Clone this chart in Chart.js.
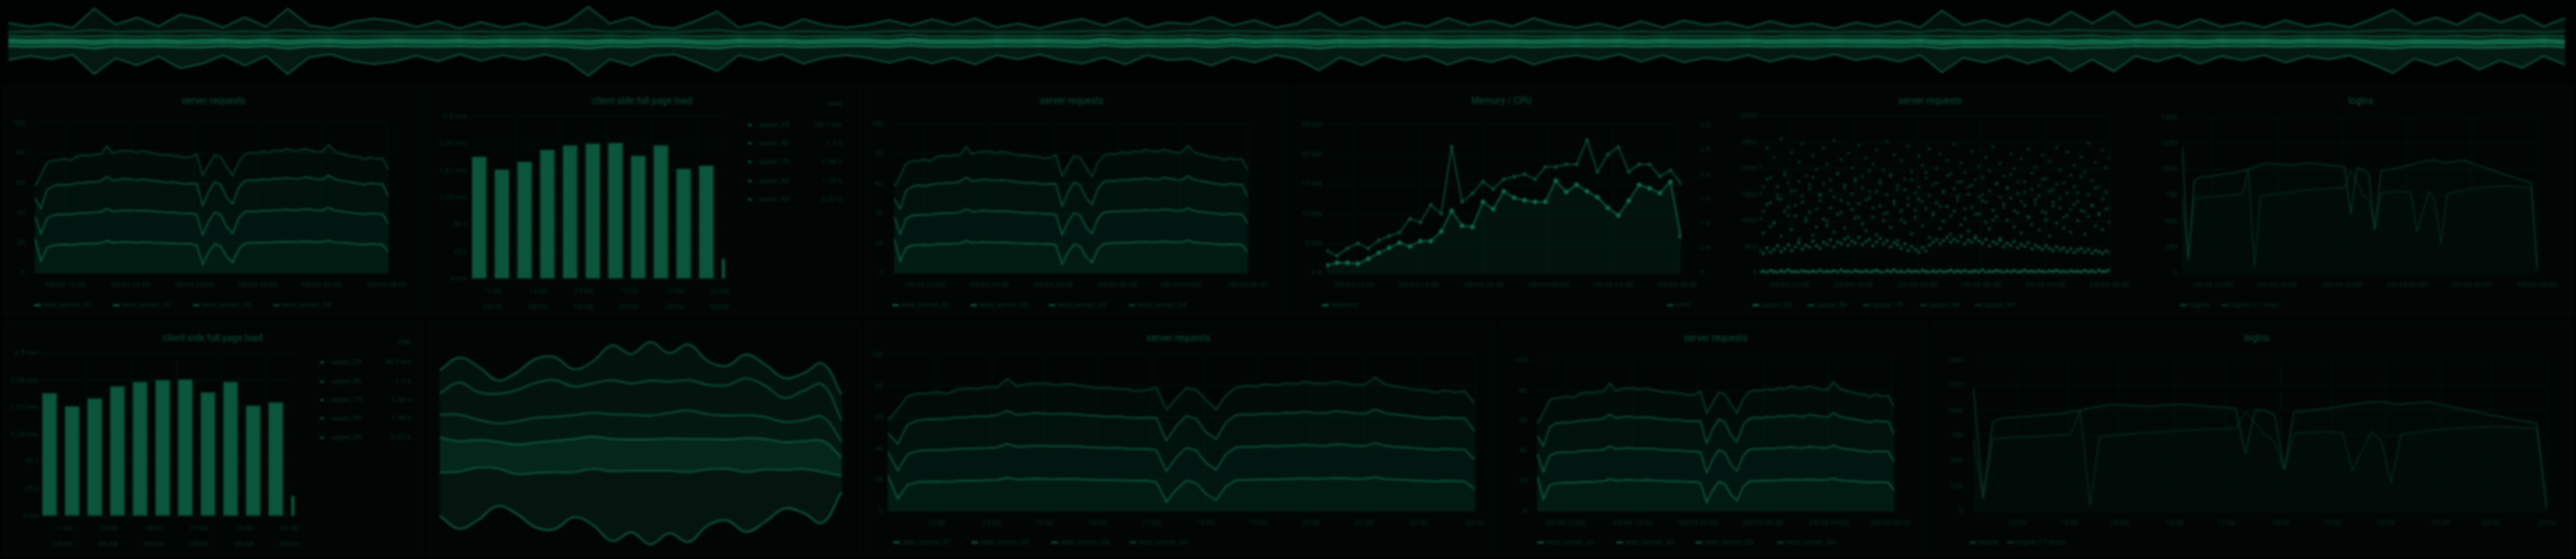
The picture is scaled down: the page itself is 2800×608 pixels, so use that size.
<!DOCTYPE html>
<html>
<head>
<meta charset="utf-8">
<script src="https://cdn.jsdelivr.net/npm/chart.js@4.4.1/dist/chart.umd.min.js"></script>
<style>
html, body { margin: 0; padding: 0; background: #000302; width: 2800px; height: 608px; overflow: hidden; font-family: Roboto, sans-serif; }
body { filter: blur(1.1px); }
.panel { position: absolute; background: #010604; border: 1px solid #030b08; box-sizing: border-box; border-radius: 2px; }
.t { position: absolute; white-space: nowrap; color: #082c20; font-size: 8px; line-height: 10px; }
.title { font-size: 10px; color: #0a3b2a; font-weight: 500; }
.mk { position: absolute; width: 7px; height: 2px; }
canvas { position: absolute; }
</style>
</head>
<body>
<script>
// ---- top stream (layer thickness, bottom to top) ----
const topL1 = [15,10,14,9,28,13,20,11,23,18, 10,20,11,28,12,9,15,19,17,10, 16,9,15,10,14,9,15,30,14,20, 11,9,16,25,10,15,9,18,12,10,
  13,17,13,18,12,19,10,14,9,15, 18,13,19,10,15,14,20,13,17,10, 14,24,12,20,10,15,11,19,12,17, 11,19,13,10,14,9,16,10,17,12,
  15,10,16,11,14,9,15,11,16,10, 26,12,17,11,18,12,25,13,26,11, 16,10,18,11,15,10,17,11,14,10, 18,27,13,20,12,24,14,23,11,19];
const topL2 = [4,4,4,4,4.5,4,4,4,4,4.5, 4,4,4,4.5,4,4,4,4,4,4, 4,4,4,4,4,4,4,4.5,4,4, 4,4,4,4.5,4,4,4,4,4,4,
  4,4,4,4,4,4,4,4,4,4, 4,4,4,4,4,4,4,4,4,4, 4,4.5,4,4,4,4,4,4,4,4, 4,4,4,4,4,4,4,4,4,4,
  4,4,4,4,4,4,4,4,4,4, 4.5,4,4,4,4,4,4.5,4.5,4,4, 4,4,4,4,4,4,4,4,4,4, 4,4.5,4,4,4,4,4.5,4,4,4];
const topL3 = [3,3,3,3,3.5,3,3,3,3,3.5, 3,3,3,3.5,3,3,3,3,3,3, 3,3,3,3,3,3,3,3.5,3,3, 3,3,3,3.5,3,3,3,3,3,3,
  3,3,3,3,3,3,3,3,3,3, 3,3,3,3,3,3,3,3,3,3, 3,3.5,3,3,3,3,3,3,3,3, 3,3,3,3,3,3,3,3,3,3,
  3,3,3,3,3,3,3,3,3,3, 3.5,3,3,3,3,3,3.5,3.5,3,3, 3,3,3,3,3,3,3,3,3,3, 3,3.5,3,3,3,3,3.5,3,3,3];
const topL4 = [4,4,4.5,4,5,4.5,4,4.5,4.5,5, 4,4.5,4,5,4,4,4.5,4.5,4,4, 4.5,4,4,4,4,4,4.5,5,4.5,4.5, 4,4,4.5,5,4,4,4,4.5,4,4,
  4,4.5,4.5,4,4.5,4,4,4,4,4, 4.5,4.5,4,4,4,4.5,4.5,4.5,4,4, 4,5,4.5,4,4,4,4,4.5,4.5,4, 4.5,4.5,4,4,4,4,4,4,4.5,4.5,
  4,4,4,4.5,4,4,4,4.5,4,4, 5,4.5,4,4.5,4,4,5,5,4,4, 4.5,4,4.5,4,4,4,4,4,4,4.5, 4.5,5,4.5,4,5,4.5,5,4,4,4.5];
const topL5 = [4,6,4,5,7,4,6,4,6,5, 4,6,4,7,5,4,6,5,4,5, 5,4,6,4,5,4,5,7,4,6, 4,4,6,7,4,5,4,6,5,4,
  4,6,4,6,5,6,4,5,4,5, 6,4,6,4,5,5,6,4,6,4, 5,7,4,6,4,5,4,6,5,5, 4,6,5,4,5,4,6,4,5,5,
  5,4,6,4,5,4,5,4,6,4, 7,5,6,4,6,5,7,5,7,4, 5,4,6,4,5,4,6,4,5,4, 6,7,5,6,5,7,5,6,4,6];
const topL6 = [10,5,9,4,23,8,15,6,18,13, 5,15,6,23,7,4,10,14,12,5, 11,4,10,5,9,4,10,25,9,15, 6,4,11,20,5,10,4,13,7,5,
  8,12,6,13,7,14,5,9,4,10, 13,6,14,5,10,7,15,6,12,5, 9,19,7,15,5,10,6,14,7,12, 6,14,8,5,9,4,11,5,12,7,
  10,5,11,6,9,4,10,6,11,5, 21,7,12,6,13,7,20,8,21,6, 11,5,13,6,10,5,12,6,9,5, 13,22,8,15,7,19,9,18,6,14];

// ---- lower stream panel ----
const waveL1 = [47,62,57,41,43,59,62,49,61,76,67,80,68,76,61,56,65,57,42,48,55,17];
const waveL2 = [38,33,30,29,32,33,34,36,35,35,34,34,35,36,33,32,37,33,30,30,34,20];
const waveL3 = [25,29,22,20,25,27,26,26,26,27,27,26,28,31,27,26,25,24,22,23,26,17];
const waveL4 = [23,35,30,32,34,38,40,31,32,37,34,38,34,33,32,33,40,34,26,32,35,23];
const waveL5 = [25,27,28,15,19,26,25,19,24,38,32,42,31,39,26,21,26,23,22,19,23,28];

// ---- server requests (stacked) ----
const srvNames = ['web_server_01', 'web_server_02', 'web_server_03', 'web_server_04'];
const srvS1 = [23,8,17,18.5,18.8,19,18.7,19.2,19.5,19.4, 19.8,20,21.5,20.3,20.5,20.8,20.6,20.4,20.7,20.5,
  20.2,20,19.8,19.9,19.6,19.4,19.5,18.5,6,14, 19.5,18,11,7,16,19.8,20,20.2,20.4,20.3,
  20.6,20.8,21,20.7,20.9,21.2,21,20.6,20.8,21.8, 20.6,20.2,20,19.6,19.3,19,19.4,19.2,19,14];
const srvS2 = [15,18,19.5,20,20.2,20,20.4,20.6,20.5,20.8, 20.6,20.9,21.5,20.8,21,21.2,21,21.1,20.9,21,
  20.8,20.7,20.5,20.6,20.4,20.2,20.3,20.5,19.5,20.5, 21,20.8,19.8,19.5,20.6,21,21.2,21,21.3,21.1,
  21.4,21.2,21.5,21.3,21,21.6,21.4,21.2,21,21.8, 21.2,21,20.8,20.6,20.4,20.2,20.5,20.3,20.4,19];
const srvS3 = [12,17,19,19.5,19.8,19.6,20,20.2,20.1,20.4, 20.3,20.6,21.2,20.5,20.8,20.9,20.7,20.6,20.8,20.5,
  20.4,20.3,20.1,20.2,20,19.9,20,20.6,19.5,20, 20.4,20.2,19.6,19.5,20.3,20.6,20.8,20.6,20.9,20.7,
  21,20.8,21.1,20.9,20.7,21.2,21,20.8,20.6,21.5, 20.9,20.6,20.4,20.2,20,19.8,20.1,19.9,20,18];
const srvS4 = [8,22,18,17,16.5,17.5,16,17.8,18.5,17.6, 18.4,17.8,20.5,18.2,19,18.6,19.2,18.4,19,18.6,
  18.2,17.8,18.4,17.6,18,17.2,17.6,19.5,20,17.5, 17.8,18.6,20.5,19,17.2,17.6,18.2,17.8,18.6,18.2,
  18.8,18.4,19.2,18.6,19,18.8,18.4,18,18.6,20.5, 18.4,18,17.6,17.2,17.8,16.8,17.4,16.6,17.2,18];
const srvYLabels = ['0', '20', '40', '60', '80', '100'];
const dayTicks = ['05/04 12:00', '05/04 16:00', '05/04 20:00', '05/05 00:00', '05/05 04:00', '05/05 08:00'];
const hourTicks = ['13:00', '14:00', '15:00', '16:00', '17:00', '18:00', '19:00', '20:00', '21:00', '22:00', '23:00'];

// ---- client side full page load ----
const loadBars = [112.6, 100.5, 107.8, 119, 123, 124.7, 125.3, 113.4, 123, 101.3, 104.2, 18];
const loadYLabels = ['0 ms', '25 s', '50 s', '1.25 min', '1.67 min', '2.08 min', '2.5 min'];
const loadXLabels = [['11:00', '05/06'], ['13:00', '05/06'], ['15:00', '05/06'], ['17:00', '05/06'], ['19:00', '05/06'], ['21:00', '05/06']];
const loadNames = ['upper_25', 'upper_50', 'upper_75', 'upper_90', 'upper_95'];
const loadMax = ['48.7 ms', '1.1 s', '1.38 s', '1.76 s', '2.07 s'];

// ---- memory / cpu ----
const memVals = [1.3,1.75,1.75,1.6,2.4,3.4,4.25,5.1,4.5,5.4, 5.4,7,10.5,8,7.8,12,10.8,13.8,12.7,12.3,
  12,12,15.6,13.7,14.9,13.8,12.8,11,9.75,12.2, 14.9,14.3,13.5,15.4,6.2];
const cpuVals = [0.45,0.35,0.5,0.6,0.5,0.66,0.75,0.82,1.1,1.03, 1.38,1.2,2.55,1.44,1.61,1.85,1.7,1.9,1.95,2.0,
  1.9,2.15,2.15,2.2,2.2,2.69,2.05,2.4,2.55,2.05, 2.2,2.2,1.96,2.08,1.82];
const memYLabels = ['0 B', '5 MB', '10 MB', '15 MB', '20 MB', '25 MB'];
const cpuYLabels = ['0', '0.5', '1.0', '1.5', '2.0', '2.5', '3.0'];

// ---- server requests scatter ----
const scat25 = [22,35,14,48,27,9,41,19,56,25, 31,12,44,29,17,38,23,52,15,33, 26,45,18,58,24,36,11,47,30,20,
  40,16,34,50,22,10,43,27,55,21, 35,14,46,25,39,19,51,28,13,37, 23,44,17,32,54,26,41,21,49,15,
  30,42,24,57,18,36,27,46,33,12, 39,21,48,16,29,53,25,37,19,44, 28,11,40,31,50,22,35,17,45,26,
  33,20,47,24,38,14,52,29,36,60];
const scat50 = [420,370,480,395,450,520,410,465,540,430, 500,575,460,530,490,610,520,470,585,545, 630,500,590,560,650,530,610,575,680,545,
  600,640,520,590,660,560,620,500,580,540, 470,555,430,510,450,400,485,420,530,590, 640,560,620,680,590,650,600,700,560,630,
  590,660,610,570,640,520,600,560,620,510, 570,530,600,480,550,510,580,460,530,490, 450,520,470,430,500,440,480,410,460,390,
  440,470,400,450,380,430,410,370,420,390];
const scat75 = [1040,760,1310,890,950,1420,700,1180,1260,830, 1090,640,1350,990,1160,720,880,1480,1030,910, 1240,780,1120,1390,860,690,1210,1050,1330,940,
  810,1440,1070,730,1280,1000,1150,870,1370,620, 1190,960,1300,750,1060,1410,900,1230,680,1110, 1340,850,990,1270,740,1180,1460,920,1040,800,
  1250,700,1130,1380,970,840,1200,1080,660,1320, 1010,1430,880,1150,760,1290,1060,930,1400,820, 1170,1020,710,1350,950,1240,860,1100,780,1310,
  1000,1190,740,1080,1280,900,1140,830,1220,970];
const scat90 = [1520,1180,1790,1340,960,1650,1410,1870,1100,1560, 1290,1740,1470,1050,1610,1830,1220,1380,1700,990, 1580,1450,1900,1160,1680,1330,1510,1800,1070,1620,
  1400,1950,1240,1560,1760,1130,1490,1850,1310,1670, 1020,1590,1430,1780,1200,1640,1360,1920,1480,1150, 1720,1270,1540,1860,1090,1610,1390,1750,1230,1500,
  1680,1120,1450,1820,1350,1570,1010,1710,1440,1260, 1630,1880,1190,1520,1370,1740,1080,1600,1320,1470, 1790,1140,1560,1280,1690,1420,1060,1530,1210,1650,
  1370,1840,1170,1490,1300,1620,1110,1410,1550,1250];
const scat95 = [2050,1640,2390,1820,2210,1490,2560,1930,1720,2300, 1580,2120,2470,1860,1690,2240,1980,1510,2380,2070, 1770,2530,1900,2160,1620,2290,2010,1750,2440,1840,
  2190,1560,2080,2350,1710,1960,2510,1880,2260,1600, 2140,1790,2420,1940,1530,2230,2060,1810,2370,1680, 2000,2280,1570,2150,1890,2460,1730,2100,1920,1640,
  2330,1780,2040,1500,2200,1950,2410,1700,2090,1850, 1620,2270,1990,1740,2180,1550,2360,1910,2020,1670, 2250,1800,2130,1590,2400,1960,1720,2310,1870,2060,
  1540,2220,1930,2480,1760,2110,1650,2340,2010,2200];
const scatYLabels = ['0', '500', '1000', '1500', '2000', '2500', '3000'];

// ---- logins ----
const loginsNow = [1230,140,890,925,930,938,945,955,962,970, 985,1000,1025,1040,1060,1055,1050,1045,1040,1048,
  1055,1062,1058,1050,1042,1036,1030,1020,570,1010, 1000,960,415,985,995,1005,1015,1030,1045,1060,
  1075,1082,1090,1070,1062,1075,1080,1085,1060,1040, 1020,1000,985,960,945,925,905,890,870,30];
const loginsHourAgo = [720,120,720,725,730,735,740,745,750,760, 765,1000,60,740,750,760,770,775,780,790,
  795,800,805,810,815,818,820,822,990,880, 760,700,415,770,780,785,790,785,780,400,
  600,790,700,280,760,775,790,800,810,820, 825,830,835,838,840,836,830,825,820,25];
const loginYLabels = ['0', '250', '500', '750', '1000', '1250', '1500'];

Chart.defaults.font.family = 'Roboto';
Chart.defaults.font.size = 8;
Chart.defaults.color = '#082c20';
Chart.defaults.animation = false;
Chart.defaults.responsive = false;
Chart.defaults.plugins.legend.display = false;
Chart.defaults.plugins.tooltip.enabled = false;
Chart.defaults.elements.point.radius = 0;
Chart.defaults.elements.line.borderWidth = 1.5;

const GRID = 'rgba(16,70,50,0.11)';
const idx = n => Array.from({ length: n }, (_, i) => i);

function panel(x, y, w, h) {
  const d = document.createElement('div');
  d.className = 'panel';
  d.style.cssText = `left:${x}px;top:${y}px;width:${w}px;height:${h}px`;
  document.body.appendChild(d);
}
function text(x, y, s, align, cls) {
  const d = document.createElement('div');
  d.className = 't' + (cls ? ' ' + cls : '');
  d.textContent = s;
  const tx = align === 'c' ? '-50%' : align === 'r' ? '-100%' : '0';
  d.style.cssText = `left:${x}px;top:${y}px;transform:translate(${tx},-50%)`;
  document.body.appendChild(d);
}
function legendItem(x, y, s, color) {
  const m = document.createElement('div');
  m.className = 'mk';
  m.style.cssText = `left:${x}px;top:${y - 1}px;background:${color}`;
  document.body.appendChild(m);
  text(x + 10, y, s, 'l');
}

// canvas placed so that the chart area lands on plot = [left, top, right, bottom]
function mount(plot, o) {
  const left = plot[0] - (o.yW || 0), top = plot[1] - (o.padT || 0);
  const right = plot[2] + (o.rW || 0) + (o.padR || 0), bottom = plot[3] + (o.xH || 0);
  const c = document.createElement('canvas');
  c.width = right - left; c.height = bottom - top;
  c.style.left = left + 'px'; c.style.top = top + 'px';
  document.body.appendChild(c);
  return c;
}
function yAxis(w, min, max, step, labels, pad, pos) {
  return {
    position: pos || 'left', min, max,
    afterFit: s => { s.width = w; },
    grid: { color: GRID, drawTicks: false }, border: { display: false },
    ticks: { stepSize: step, padding: pad, callback: (v, i) => labels[i] }
  };
}
function xAxis(h, min, max, pos, labels, pad) {
  return {
    type: 'linear', min, max,
    afterFit: s => { s.height = h; },
    afterBuildTicks: s => { s.ticks = pos.map(v => ({ value: v })); },
    grid: { color: GRID, drawTicks: false }, border: { display: false },
    ticks: { padding: pad, maxRotation: 0, autoSkip: false, callback: (v, i) => labels[i] }
  };
}
function pad(o) { return { padding: { top: o.padT || 0, right: o.padR || 0, left: 0, bottom: 0 } }; }

// streamgraph: stacked layers on a centred baseline
function stream(plot, layers, range, tension, lines, fills, widths) {
  const c = mount(plot, {});
  const n = layers[0].length;
  const base = idx(n).map(i => -layers.reduce((a, l) => a + l[i], 0) / 2);
  const sets = [{ data: base, borderColor: lines[0], borderWidth: widths[0], fill: false }];
  layers.forEach((l, k) => sets.push({ data: l, borderColor: lines[k + 1], borderWidth: widths[k + 1], backgroundColor: fills[k], fill: '-1' }));
  sets.forEach(s => { s.tension = tension; });
  new Chart(c, {
    type: 'line',
    data: { labels: idx(n), datasets: sets },
    options: {
      layout: { padding: 0 },
      scales: {
        x: { type: 'linear', display: false, min: 0, max: n - 1 },
        y: { display: false, stacked: 'single', min: -range, max: range }
      }
    }
  });
}

function srvChart(plot, o) {
  const c = mount(plot, o);
  const cols = ['#0e5d42', '#0d5840', '#0c513b', '#093f2e'];
  new Chart(c, {
    type: 'line',
    data: {
      labels: idx(srvS1.length),
      datasets: [srvS1, srvS2, srvS3, srvS4].map((d, k) => ({
        label: srvNames[k], data: d, borderColor: cols[k], borderWidth: 1.5,
        backgroundColor: 'rgba(12,84,58,0.08)', fill: 'origin'
      }))
    },
    options: {
      layout: pad(o),
      scales: {
        x: xAxis(o.xH, 0, srvS1.length - 1, o.tickPos, o.tickLabels, 8),
        y: Object.assign(yAxis(o.yW, 0, 100, 20, srvYLabels, o.yPad), { stacked: true })
      }
    }
  });
  o.legend.forEach((x, k) => legendItem(x, o.legendY, srvNames[k], cols[k]));
}

function loadChart(plot, o) {
  const c = mount(plot, o);
  const x = xAxis(o.xH, -0.36, 10.82, [0.6, 2.6, 4.6, 6.6, 8.6, 10.6], loadXLabels, 6);
  x.offset = false;
  x.ticks.font = { lineHeight: 2.1 };
  new Chart(c, {
    type: 'bar',
    data: { labels: idx(loadBars.length), datasets: [{ data: loadBars, backgroundColor: '#0a553b', barThickness: 15 }] },
    options: { layout: pad(o), scales: { x, y: yAxis(o.yW, 0, 150, 25, loadYLabels, o.yPad) } }
  });
  const t = o.table;
  text(t.valX, t.headY, 'max', 'r');
  loadNames.forEach((n, k) => {
    const y = t.rowY[k];
    const m = document.createElement('div');
    m.className = 'mk';
    m.style.cssText = `left:${t.mkX}px;top:${y - 1}px;width:4px;background:#0a4d36`;
    document.body.appendChild(m);
    text(t.mkX + 12, y, n, 'l');
    text(t.valX, y, loadMax[k], 'r');
  });
}

function loginsChart(plot, o) {
  const c = mount(plot, o);
  new Chart(c, {
    type: 'line',
    data: {
      labels: idx(loginsNow.length),
      datasets: [
        { data: loginsNow, borderColor: '#09432f', borderWidth: 1, backgroundColor: 'rgba(10,70,50,0.06)', fill: 'origin' },
        { data: loginsHourAgo, borderColor: '#073425', borderWidth: 1, backgroundColor: 'rgba(10,70,50,0.04)', fill: 'origin' }
      ]
    },
    options: {
      layout: pad(o),
      scales: {
        x: xAxis(o.xH, 0, loginsNow.length - 1, o.tickPos, o.tickLabels, 8),
        y: yAxis(o.yW, 0, 1500, 250, loginYLabels, o.yPad)
      }
    }
  });
  legendItem(o.legend[0], o.legendY, 'logins', '#09432f');
  legendItem(o.legend[1], o.legendY, 'logins (-1 hour)', '#073425');
}

// ---- panels ----
[[4, 93, 456, 250], [462, 93, 474, 250], [940, 93, 460, 250], [1404, 93, 464, 250], [1872, 93, 456, 250], [2332, 93, 464, 250],
 [4, 349, 456, 256], [466, 349, 470, 256], [940, 349, 686, 256], [1630, 349, 466, 256], [2100, 349, 696, 256]].forEach(p => panel(...p));

// top strip
stream([9, 5, 2788, 85], [topL1, topL2, topL3, topL4, topL5, topL6], 40, 0,
  ['#0d5a40', '#11704f', '#137a55', '#147f58', '#0d5c41', '#0b4d37', '#0d5a40'],
  ['rgba(10,60,42,0.4)', 'rgba(14,92,64,0.38)', 'rgba(20,125,86,0.5)', 'rgba(12,80,56,0.3)', 'rgba(10,70,50,0.25)', 'rgba(8,55,40,0.28)'],
  [1.5, 2, 2, 2, 1.5, 1.5, 1.5]);

// row 1
text(232, 110, 'server requests', 'c', 'title');
srvChart([38, 126, 425, 297], { yW: 34, padT: 8, padR: 25, xH: 22, yPad: 11,
  tickPos: [5.1, 15.9, 26.6, 37.2, 47.8, 58.7], tickLabels: dayTicks, legend: [37, 123, 210, 297], legendY: 332 });

text(698, 110, 'client side full page load', 'c', 'title');
loadChart([512, 126, 788, 303], { yW: 46, padT: 8, padR: 15, xH: 44, yPad: 4,
  table: { valX: 915, headY: 113, mkX: 813, rowY: [136, 156, 176, 197, 217] } });

text(1165, 110, 'server requests', 'c', 'title');
srvChart([972, 126, 1358, 297], { yW: 28, padT: 8, padR: 28, xH: 22, yPad: 12,
  tickPos: [5.1, 15.9, 26.6, 37.2, 47.8, 59], tickLabels: dayTicks, legend: [970, 1055, 1140, 1227], legendY: 332 });

text(1632, 110, 'Memory / CPU', 'c', 'title');
(function () {
  const plot = [1442, 126, 1827, 297];
  const o = { yW: 34, padT: 8, padR: 4, rW: 32, xH: 22 };
  const c = mount(plot, o);
  const yR = yAxis(o.rW, 0, 3, 0.5, cpuYLabels, 13, 'right');
  yR.grid = { display: false };
  new Chart(c, {
    type: 'line',
    data: {
      labels: idx(memVals.length),
      datasets: [
        { data: memVals, yAxisID: 'y', borderColor: '#0e6246', borderWidth: 1.5, backgroundColor: 'rgba(14,100,70,0.14)', fill: 'origin',
          pointRadius: 2.5, pointBackgroundColor: '#0f6b4b', pointBorderWidth: 0 },
        { data: cpuVals, yAxisID: 'y1', borderColor: '#0a4c36', borderWidth: 1.5, fill: false,
          pointRadius: 2, pointBackgroundColor: '#0a4c36', pointBorderWidth: 0 }
      ]
    },
    options: {
      layout: pad(o),
      scales: {
        x: xAxis(o.xH, 0, memVals.length - 1, [2.7, 8.9, 15.1, 21.3, 27.5, 33.7], dayTicks, 8),
        y: yAxis(o.yW, 0, 25, 5, memYLabels, 5),
        y1: yR
      }
    }
  });
  legendItem(1437, 332, 'Memory', '#0e6246');
  legendItem(1812, 332, 'CPU', '#0a4c36');
})();

text(2098, 110, 'server requests', 'c', 'title');
(function () {
  const plot = [1913, 126, 2293, 297];
  const o = { yW: 36, padT: 8, padR: 30, xH: 22 };
  const c = mount(plot, o);
  const alphas = [0.9, 0.65, 0.5, 0.42, 0.36];
  new Chart(c, {
    type: 'line',
    data: {
      labels: idx(scat25.length),
      datasets: [scat25, scat50, scat75, scat90, scat95].map((d, k) => ({
        label: loadNames[k], data: d, showLine: false, pointRadius: 1.8, pointBorderWidth: 0,
        pointBackgroundColor: `rgba(15,110,76,${alphas[k]})`
      }))
    },
    options: {
      layout: pad(o),
      scales: {
        x: xAxis(o.xH, 0, scat25.length - 1, [8.4, 26.6, 44.8, 62.6, 80.8, 99], dayTicks, 8),
        y: yAxis(o.yW, 0, 3000, 500, scatYLabels, 3)
      }
    }
  });
  [1905, 1965, 2025, 2087, 2147].forEach((x, k) => legendItem(x, 332, loadNames[k], `rgba(15,110,76,${alphas[k]})`));
})();

text(2566, 110, 'logins', 'c', 'title');
loginsChart([2372, 126, 2758, 297], { yW: 36, padT: 8, padR: 30, xH: 22, yPad: 5,
  tickPos: [5.1, 15.8, 26.7, 37.4, 48.1, 59], tickLabels: dayTicks, legend: [2370, 2415], legendY: 332 });

// row 2
text(231, 368, 'client side full page load', 'c', 'title');
loadChart([45, 384, 320, 561], { yW: 38, padT: 8, padR: 15, xH: 44, yPad: 3,
  table: { valX: 447, headY: 372, mkX: 348, rowY: [394, 415, 435, 455, 476] } });

stream([478, 357, 915, 607], [waveL1, waveL2, waveL3, waveL4, waveL5], 125, 0.4,
  ['#0c553d', '#0b4f39', '#0c533c', '#0a4a35', '#0a4a35', '#0a4d37'],
  ['rgba(9,60,42,0.28)', 'rgba(12,84,58,0.42)', 'rgba(9,62,44,0.32)', 'rgba(9,58,42,0.28)', 'rgba(7,50,36,0.3)'],
  [2, 2, 2, 2, 2, 2]);

text(1281, 368, 'server requests', 'c', 'title');
srvChart([965, 384, 1607, 556], { yW: 22, padT: 8, padR: 14, xH: 22, yPad: 5,
  tickPos: [4.9, 10.4, 15.7, 21.1, 26.5, 31.9, 37.2, 42.5, 47.9, 53.4, 59], tickLabels: hourTicks,
  legend: [971, 1056, 1143, 1228], legendY: 590 });

text(1865, 368, 'server requests', 'c', 'title');
srvChart([1671, 384, 2059, 556], { yW: 38, padT: 8, padR: 28, xH: 22, yPad: 11,
  tickPos: [4.6, 15.8, 26.6, 37.4, 48.2, 58.4], tickLabels: dayTicks, legend: [1671, 1757, 1843, 1932], legendY: 590 });

text(2453, 368, 'logins', 'c', 'title');
loginsChart([2145, 384, 2772, 556], { yW: 42, padT: 8, padR: 14, xH: 22, yPad: 11,
  tickPos: [4.5, 9.8, 15, 20.7, 26, 31.6, 36.9, 42.4, 48.1, 53.3, 59], tickLabels: hourTicks, legend: [2141, 2182], legendY: 590 });
</script>
</body>
</html>
